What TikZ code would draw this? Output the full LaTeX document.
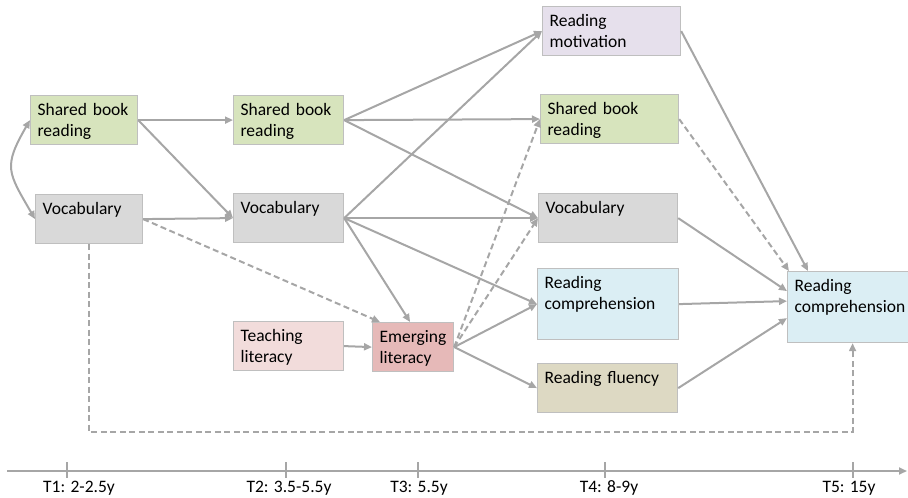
\documentclass[tikz,border=0pt]{standalone}
\usepackage{fontspec}
\setmainfont{Carlito}
\usepackage{tikz}
\usetikzlibrary{arrows.meta}
\definecolor{sbrgreen}{HTML}{D7E4BD}
\definecolor{vocgray}{HTML}{D9D9D9}
\definecolor{motivlilac}{HTML}{E6E0EC}
\definecolor{teachpink}{HTML}{F2DCDB}
\definecolor{emergrose}{HTML}{E6B9B8}
\definecolor{compblue}{HTML}{DBEEF4}
\definecolor{fluencytan}{HTML}{DDD9C3}
\definecolor{boxline}{HTML}{BFBFBF}
\definecolor{linkgray}{HTML}{A6A6A6}
\hyphenpenalty=10000
\tikzset{
  box/.style={draw=boxline, line width=1.2pt, anchor=north west, align=left,
    inner xsep=7pt, inner ysep=7pt, text height=12.5pt, text depth=22.5pt,
    font=\fontsize{17.5}{21.5}\selectfont},
  tallbox/.style={box, text depth=44.5pt},
  link/.style={draw=linkgray, line width=2pt, ->},
  dashlink/.style={link, dash pattern=on 6pt off 3.5pt}
}
\begin{document}
\begin{tikzpicture}[x=1pt, y=-1pt, >={Triangle[length=8pt, width=7pt]}]
\useasboundingbox (0,0) rectangle (908,498);

% T1
\node [box, fill=sbrgreen, text width=93pt] (sbrA) at (30,95) {Shared book\\reading};
\node [box, fill=vocgray, text width=93pt] (vocA) at (35,194) {Vocabulary};
% T2
\node [box, fill=sbrgreen, text width=96pt] (sbrB) at (233,95) {Shared book\\reading};
\node [box, fill=vocgray, text width=96pt] (vocB) at (233,193) {Vocabulary};
% T3
\node [box, fill=teachpink, text width=96pt] (teach) at (233,321) {Teaching\\literacy};
\node [box, fill=emergrose, text width=67pt] (emerg) at (372,322) {Emerging\\literacy};
% T4
\node [box, fill=motivlilac, text width=124pt] (motiv) at (542,6) {Reading\\motivation};
\node [box, fill=sbrgreen, text width=124pt] (sbrC) at (540,94) {Shared book\\reading};
\node [box, fill=vocgray, text width=125pt] (vocC) at (538,193) {Vocabulary};
\node [tallbox, fill=compblue, text width=127pt] (compA) at (537,268) {Reading\\comprehension};
\node [box, fill=fluencytan, text width=126pt] (fluen) at (537,363) {Reading fluency};
% T5
\node [tallbox, fill=compblue, text width=116pt] (compB) at (787,271) {Reading\\comprehension};

\draw [link, <->] (sbrA.west) to [out=240, in=120, looseness=1.4] (vocA.west);
\draw [link] (sbrA.east) -- (sbrB.west);
\draw [link] (sbrA.east) -- (vocB.west);
\draw [link] (vocA.east) -- (vocB.west);
\draw [dashlink] (vocA.east) -- ([xshift=8pt]emerg.north west);

\draw [link] (sbrB.east) -- (motiv.west);
\draw [link] (sbrB.east) -- (sbrC.west);
\draw [link] (sbrB.east) -- (vocC.west);
\draw [link] (vocB.east) -- (motiv.west);
\draw [link] (vocB.east) -- (vocC.west);
\draw [link] (vocB.east) -- (compA.west);
\draw [link] (vocB.east) -- ([xshift=-3pt]emerg.north);

\draw [link] (teach.east) -- (emerg.west);
\draw [link] (emerg.east) -- (compA.west);
\draw [link] (emerg.east) -- (fluen.west);
\draw [dashlink] (emerg.east) -- (sbrC.west);
\draw [dashlink] (emerg.east) -- (vocC.west);

\draw [link] (motiv.east) -- ([xshift=21pt]compB.north west);
\draw [dashlink] (sbrC.east) -- ([xshift=2pt]compB.north west);
\draw [link] (vocC.east) -- ([yshift=16pt]compB.west);
\draw [link] (compA.east) -- ([yshift=6pt]compB.west);
\draw [link] (fluen.east) -- ([yshift=-11pt]compB.west);

\coordinate (low) at (0,432);
\draw [dashlink] (vocA.south) -- (vocA.south |- low) -- (compB.south |- low) -- (compB.south);

% time line
\coordinate (axisL) at (7,471);
\coordinate (axisR) at (907,471);
\draw [draw=linkgray, line width=2pt, ->] (axisL) -- (axisR);
\foreach \t/\lx/\lab [count=\i] in {67/79/T1: 2-2.5y, 286/289/T2: 3.5-5.5y, 418/419/T3: 5.5y, 605/609/T4: 8-9y, 853/849/T5: 15y} {
  \draw [draw=linkgray, line width=2pt] (\t,462) -- (\t,478);
  \node [anchor=base, inner sep=0pt, font=\fontsize{17.5}{21.5}\selectfont] (time\i) at (\lx,492) {\lab};
}

\end{tikzpicture}
\end{document}
